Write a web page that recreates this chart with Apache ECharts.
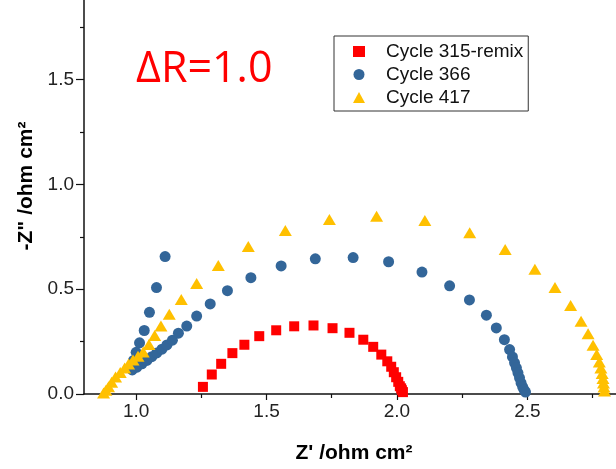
<!DOCTYPE html>
<html>
<head>
<meta charset="utf-8">
<script src="https://cdn.jsdelivr.net/npm/echarts@6/dist/echarts.min.js"></script>
<style>
html,body{margin:0;padding:0;background:#fff;}
#chart{width:616px;height:469px;}
</style>
</head>
<body>
<div id="chart"></div>
<script>
// ---- data ----
const seriesNames = ['Cycle 315-remix', 'Cycle 366', 'Cycle 417'];

const redX = [1.256,1.290,1.326,1.369,1.415,1.472,1.537,1.606,1.680,1.753,1.818,1.871,1.909,1.940,1.963,1.978,1.988,1.997,2.005,2.011,2.016,2.019,2.023];
const redY = [0.034,0.093,0.144,0.195,0.235,0.276,0.304,0.323,0.327,0.314,0.292,0.259,0.225,0.188,0.156,0.130,0.104,0.080,0.058,0.037,0.027,0.018,0.009];

const blueX = [1.111,1.078,1.051,1.031,1.013,1.000,0.990,0.983,
  0.985,1.003,1.022,1.041,1.060,1.079,1.099,1.118,1.139,1.162,1.194,1.232,1.284,1.350,1.440,1.556,1.687,1.832,1.968,2.096,2.202,2.278,2.343,2.381,2.412,2.432,2.443,2.451,2.458,2.464,2.470,2.476,2.482,2.488,2.493];
const blueY = [0.656,0.508,0.390,0.303,0.244,0.199,0.160,0.130,
  0.115,0.128,0.144,0.160,0.178,0.196,0.214,0.234,0.257,0.290,0.324,0.372,0.430,0.493,0.555,0.611,0.645,0.651,0.631,0.582,0.516,0.449,0.376,0.315,0.259,0.212,0.177,0.149,0.125,0.101,0.077,0.053,0.034,0.018,0.009];

const yellowX = [0.875,0.884,0.894,0.906,0.921,0.939,0.956,0.971,0.988,1.007,1.027,1.049,1.071,1.095,1.127,1.173,1.232,1.315,1.430,1.572,1.741,1.922,2.107,2.279,2.415,2.529,2.606,2.666,2.706,2.733,2.752,2.766,2.776,2.782,2.787,2.790,2.792,2.794,2.796];
const yellowY = [0.005,0.018,0.034,0.056,0.081,0.103,0.124,0.143,0.162,0.180,0.200,0.236,0.279,0.324,0.381,0.451,0.527,0.613,0.704,0.780,0.833,0.848,0.828,0.769,0.689,0.595,0.508,0.422,0.347,0.288,0.233,0.188,0.153,0.124,0.098,0.074,0.052,0.033,0.014];

const xMajorTicks = [1.0, 1.5, 2.0, 2.5];
const xMinorTicks = [1.25, 1.75, 2.25, 2.75];
const yMajorTicks = [0.0, 0.5, 1.0, 1.5];
const yMinorTicks = [0.25, 0.75, 1.25, 1.75];

const xRange = [0.8, 2.84];
const yRange = [0, 1.88];

const annotation = 'ΔR=1.0';
const xTitle = "Z' /ohm cm²";
const yTitle = '-Z" /ohm cm²';

// ---- chart ----
const zip = (a, b) => a.map((v, i) => [v, b[i]]);
const FONT = '"Liberation Sans", Arial, sans-serif';
const AX = '#111';

const chart = echarts.init(document.getElementById('chart'), null, {renderer: 'canvas'});
chart.setOption({
  animation: false,
  backgroundColor: '#fff',
  grid: {left: 84, right: 0, top: 0, bottom: 74.5, containLabel: false},
  xAxis: [{
    type: 'value', position: 'bottom', min: xRange[0], max: xRange[1],
    name: xTitle, nameLocation: 'middle', nameGap: 49,
    nameTextStyle: {fontFamily: FONT, fontSize: 21, fontWeight: 'bold', color: '#000', padding: [0, 0, 0, 8]},
    axisLine: {show: true, lineStyle: {color: AX, width: 1.5}},
    axisTick: {show: true, length: 6, customValues: xMajorTicks, lineStyle: {color: AX, width: 1.2}},
    axisLabel: {customValues: xMajorTicks, margin: 8, fontFamily: FONT, fontSize: 19, color: '#222',
      formatter: v => Number(v).toFixed(1)},
    splitLine: {show: false}
  }, {
    type: 'value', position: 'bottom', min: xRange[0], max: xRange[1],
    axisLine: {show: false},
    axisTick: {show: true, length: 4, customValues: xMinorTicks, lineStyle: {color: AX, width: 1.2}},
    axisLabel: {show: false},
    splitLine: {show: false}
  }],
  yAxis: [{
    type: 'value', position: 'left', min: yRange[0], max: yRange[1],
    name: yTitle, nameLocation: 'middle', nameGap: 47, nameRotate: 90,
    nameTextStyle: {fontFamily: FONT, fontSize: 21, fontWeight: 'bold', color: '#000', padding: [0, 0, 0, 22]},
    axisLine: {show: true, lineStyle: {color: AX, width: 1.5}},
    axisTick: {show: true, length: 8, customValues: yMajorTicks, lineStyle: {color: AX, width: 1.2}},
    axisLabel: {customValues: yMajorTicks, margin: 10, fontFamily: FONT, fontSize: 19, color: '#222',
      formatter: v => Number(v).toFixed(1)},
    splitLine: {show: false}
  }, {
    type: 'value', position: 'left', min: yRange[0], max: yRange[1],
    axisLine: {show: false},
    axisTick: {show: true, length: 4, customValues: yMinorTicks, lineStyle: {color: AX, width: 1.2}},
    axisLabel: {show: false},
    splitLine: {show: false}
  }],
  legend: {
    orient: 'vertical', left: 334, top: 36,
    padding: [6, 5, 4, 19],
    borderColor: '#333', borderWidth: 1,
    itemWidth: 12, itemHeight: 11, itemGap: 4,
    textStyle: {fontFamily: FONT, fontSize: 19, color: '#111', lineHeight: 19, padding: [0, 0, 0, 16]},
    data: [
      {name: seriesNames[0], icon: 'rect'},
      {name: seriesNames[1], icon: 'circle'},
      {name: seriesNames[2], icon: 'triangle'}
    ]
  },
  graphic: [{
    type: 'text', left: 136, top: 48,
    style: {text: annotation, fill: '#ff0000', font: '43px "Open Sans", sans-serif'}
  }],
  series: [{
    name: seriesNames[0], type: 'scatter', xAxisIndex: 0, yAxisIndex: 0,
    symbol: 'rect', symbolSize: 10, itemStyle: {color: '#ff0000', opacity: 1},
    data: zip(redX, redY), z: 3
  }, {
    name: seriesNames[1], type: 'scatter', xAxisIndex: 0, yAxisIndex: 0,
    symbol: 'circle', symbolSize: 11, itemStyle: {color: '#336699', opacity: 1},
    data: zip(blueX, blueY), z: 2
  }, {
    name: seriesNames[2], type: 'scatter', xAxisIndex: 0, yAxisIndex: 0,
    symbol: 'triangle', symbolSize: [13, 11], itemStyle: {color: '#ffc000', opacity: 1},
    data: zip(yellowX, yellowY), z: 4
  }]
});
</script>
</body>
</html>
